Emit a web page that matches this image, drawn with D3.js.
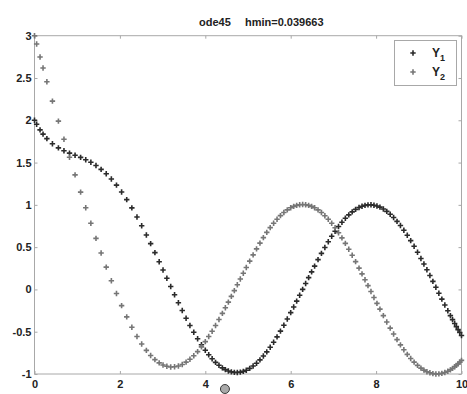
<!DOCTYPE html>
<html>
<head>
<meta charset="utf-8">
<script src="https://cdn.jsdelivr.net/npm/d3@7"></script>
<style>
body { margin: 0; background: #fff; }
svg { display: block; }
text { font-family: "Liberation Sans", Arial, sans-serif; font-weight: bold; fill: #222; }
</style>
</head>
<body>
<div id="chart"></div>
<script>
// solver output (t, Y1, Y2)
var tdata = [0, 0.05, 0.13, 0.2, 0.29, 0.42, 0.56, 0.69, 0.82, 0.95, 1.08, 1.2, 1.32, 1.44, 1.56, 1.68, 1.8, 1.92, 2.04, 2.16,
  2.28, 2.4, 2.51, 2.62, 2.72, 2.82, 2.92, 3.01, 3.1, 3.19, 3.28, 3.37, 3.46, 3.55, 3.64, 3.73, 3.82, 3.91, 4.0, 4.08,
  4.16, 4.24, 4.32, 4.4, 4.47, 4.54, 4.61, 4.68, 4.75, 4.82, 4.89, 4.96, 5.04, 5.12, 5.2, 5.28, 5.36, 5.44, 5.52, 5.6,
  5.68, 5.76, 5.84, 5.92, 6.0, 6.07, 6.14, 6.21, 6.28, 6.35, 6.42, 6.49, 6.56, 6.64, 6.72, 6.8, 6.88, 6.96, 7.04, 7.12,
  7.2, 7.28, 7.36, 7.44, 7.52, 7.6, 7.67, 7.74, 7.81, 7.88, 7.95, 8.02, 8.09, 8.17, 8.25, 8.33, 8.41, 8.49, 8.57, 8.65,
  8.73, 8.81, 8.89, 8.97, 9.05, 9.12, 9.19, 9.26, 9.33, 9.4, 9.47, 9.54, 9.61, 9.68, 9.74, 9.79, 9.84, 9.88, 9.92, 9.96, 10.0];

var y1data = [2.000, 1.953, 1.886, 1.836, 1.783, 1.722, 1.674, 1.640, 1.612, 1.587, 1.561, 1.534, 1.503, 1.465, 1.420, 1.367, 1.305, 1.233, 1.152, 1.062,
  0.964, 0.857, 0.753, 0.644, 0.541, 0.435, 0.328, 0.230, 0.132, 0.034, -0.063, -0.158, -0.250, -0.340, -0.426, -0.507, -0.584, -0.655, -0.720, -0.773,
  -0.820, -0.862, -0.897, -0.927, -0.948, -0.964, -0.975, -0.981, -0.982, -0.978, -0.969, -0.956, -0.934, -0.906, -0.873, -0.833, -0.788, -0.738, -0.683, -0.624,
  -0.561, -0.493, -0.423, -0.350, -0.274, -0.207, -0.138, -0.069, 0.001, 0.070, 0.140, 0.208, 0.276, 0.352, 0.426, 0.496, 0.564, 0.628, 0.688, 0.744,
  0.795, 0.841, 0.882, 0.917, 0.946, 0.969, 0.984, 0.994, 1.000, 1.001, 0.996, 0.987, 0.973, 0.951, 0.923, 0.889, 0.850, 0.805, 0.755, 0.700,
  0.641, 0.577, 0.510, 0.440, 0.366, 0.300, 0.233, 0.164, 0.095, 0.025, -0.045, -0.115, -0.184, -0.252, -0.310, -0.357, -0.403, -0.440, -0.475, -0.510, -0.544];

var y2data = [3.000, 2.901, 2.748, 2.618, 2.455, 2.227, 1.990, 1.775, 1.563, 1.355, 1.151, 0.965, 0.783, 0.604, 0.431, 0.264, 0.103, -0.049, -0.192, -0.325,
  -0.447, -0.556, -0.645, -0.721, -0.781, -0.830, -0.868, -0.893, -0.909, -0.917, -0.915, -0.905, -0.887, -0.860, -0.826, -0.784, -0.735, -0.679, -0.617, -0.557,
  -0.494, -0.426, -0.356, -0.283, -0.217, -0.150, -0.082, -0.014, 0.055, 0.124, 0.192, 0.259, 0.335, 0.408, 0.480, 0.548, 0.613, 0.674, 0.731, 0.783,
  0.830, 0.873, 0.909, 0.940, 0.965, 0.982, 0.994, 1.001, 1.004, 1.001, 0.994, 0.982, 0.965, 0.940, 0.909, 0.872, 0.829, 0.782, 0.729, 0.671,
  0.610, 0.544, 0.475, 0.404, 0.329, 0.252, 0.184, 0.115, 0.045, -0.025, -0.095, -0.165, -0.233, -0.310, -0.385, -0.458, -0.527, -0.594, -0.656, -0.714,
  -0.768, -0.817, -0.860, -0.898, -0.931, -0.954, -0.973, -0.986, -0.995, -1.000, -0.999, -0.993, -0.983, -0.968, -0.951, -0.934, -0.915, -0.898, -0.880, -0.860, -0.839];

var xticks = [0, 2, 4, 6, 8, 10];
var yticks = [-1, -0.5, 0, 0.5, 1, 1.5, 2, 2.5, 3];
var seriesNames = ["1", "2"];
var titleParts = ["ode45", "hmin=0.039663"];

var W = 467, H = 394;
var svg = d3.select("#chart").append("svg").attr("width", W).attr("height", H);

var x = d3.scaleLinear().domain([0, 10]).range([34.5, 461.5]);
var y = d3.scaleLinear().domain([-1, 3]).range([374, 35.7]);
var colors = ["#2b2b2b", "#767676"];

// frame
svg.append("rect")
  .attr("x", x(0)).attr("y", y(3))
  .attr("width", x(10) - x(0)).attr("height", y(-1) - y(3))
  .attr("fill", "none").attr("stroke", "#a8a8a8").attr("stroke-width", 1);

function styleAxis(g) {
  g.select(".domain").remove();
  g.selectAll(".tick line").attr("stroke", "#a8a8a8");
  g.selectAll(".tick text").attr("fill", "#222").attr("font-size", 11)
    .attr("font-family", "Liberation Sans, Arial, sans-serif").attr("font-weight", "bold");
}
var fmt = function(d) { return String(d); };

svg.append("g").attr("transform", "translate(0," + y(-1) + ")")
  .call(d3.axisBottom(x).tickValues(xticks).tickSize(-3).tickPadding(6).tickFormat(fmt))
  .call(styleAxis);
svg.append("g").attr("transform", "translate(0," + y(3) + ")")
  .call(d3.axisTop(x).tickValues(xticks).tickSize(-3).tickFormat(""))
  .call(styleAxis);
svg.append("g").attr("transform", "translate(" + x(0) + ",0)")
  .call(d3.axisLeft(y).tickValues(yticks).tickSize(-3).tickPadding(3).tickFormat(fmt))
  .call(styleAxis);
svg.append("g").attr("transform", "translate(" + x(10) + ",0)")
  .call(d3.axisRight(y).tickValues(yticks).tickSize(-3).tickFormat(""))
  .call(styleAxis);

// '+' markers
var plus = "M-2.7,0H2.7M0,-2.7V2.7";
var series = [y1data, y2data];
series.forEach(function(vals, k) {
  svg.append("g").selectAll("path").data(tdata).enter().append("path")
    .attr("d", plus)
    .attr("transform", function(d, i) { return "translate(" + x(d) + "," + y(vals[i]) + ")"; })
    .attr("stroke", colors[k]).attr("stroke-width", 1.6).attr("fill", "none");
});

// title
svg.append("text").attr("x", 199).attr("y", 26).attr("font-size", 11).text(titleParts[0]);
svg.append("text").attr("x", 245).attr("y", 26).attr("font-size", 11).text(titleParts[1]);

// legend
var lg = svg.append("g");
lg.append("rect").attr("x", 394.5).attr("y", 40.5).attr("width", 62).attr("height", 45)
  .attr("fill", "#fff").attr("stroke", "#a8a8a8");
seriesNames.forEach(function(s, k) {
  var cy = 53 + k * 19;
  lg.append("path").attr("d", plus).attr("transform", "translate(413," + cy + ")")
    .attr("stroke", colors[k]).attr("stroke-width", 1.6).attr("fill", "none");
  var t = lg.append("text").attr("x", 432).attr("y", cy + 4).attr("font-size", 12);
  t.append("tspan").text("Y");
  t.append("tspan").attr("dy", 4).attr("font-size", 9).text(s);
});

// small gray dot below the axis
svg.append("circle").attr("cx", x(4.46)).attr("cy", 389).attr("r", 4.5)
  .attr("fill", "#a9a9a9").attr("stroke", "#3a3a3a").attr("stroke-width", 1);
</script>
</body>
</html>
